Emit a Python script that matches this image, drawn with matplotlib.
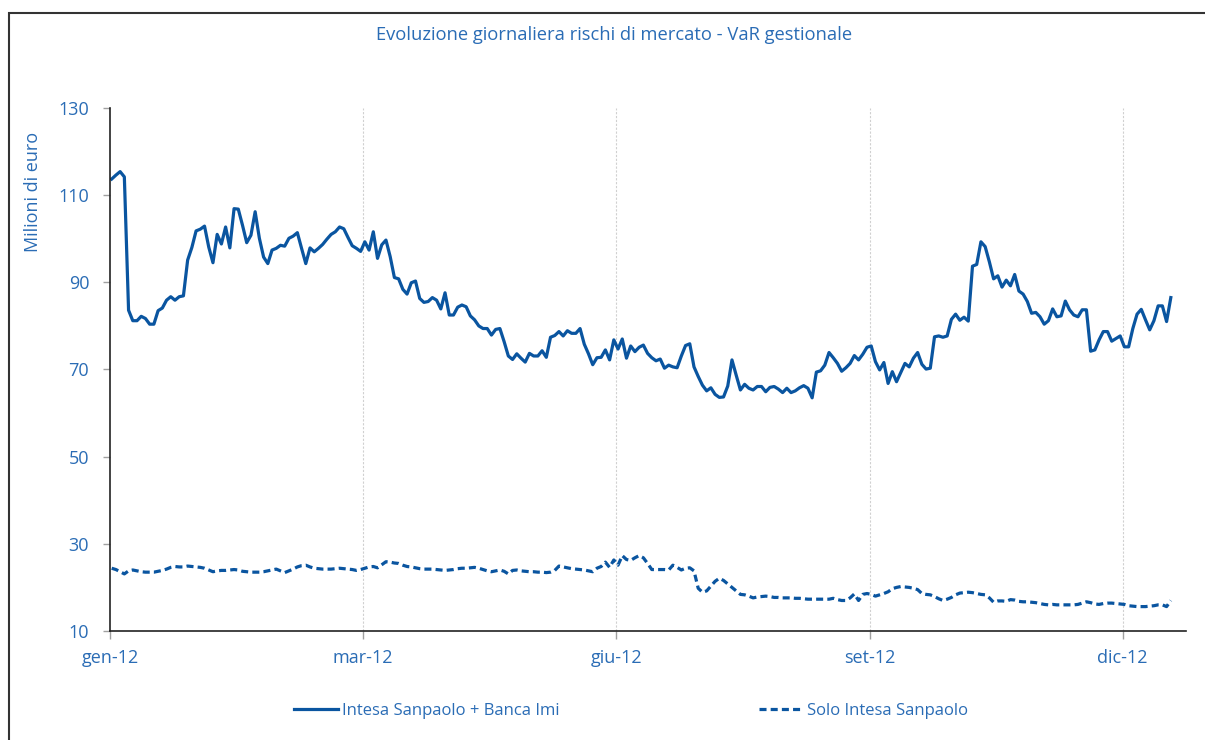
import matplotlib
matplotlib.use("Agg")
import matplotlib.pyplot as plt
from matplotlib.patches import Rectangle
import numpy as np

plt.rcParams['font.family'] = ['Open Sans', 'DejaVu Sans']

# daily VaR, milioni di euro
var_totale = [
    113.7, 114.6, 115.4, 114.2, 83.6, 81.2, 81.2, 82.2, 81.7, 80.4,
    80.4, 83.5, 84.1, 85.9, 86.7, 85.9, 86.7, 86.9, 95.1, 98.0,
    101.8, 102.2, 102.9, 98.1, 94.5, 101.0, 98.8, 102.7, 97.9, 106.9,
    106.8, 103.1, 99.1, 100.8, 106.2, 100.1, 95.8, 94.3, 97.4, 97.8,
    98.5, 98.3, 100.1, 100.6, 101.4, 97.8, 94.3, 97.9, 97.0, 97.8,
    98.7, 99.9, 101.0, 101.6, 102.7, 102.3, 100.3, 98.4, 97.8, 97.1,
    99.3, 97.4, 101.6, 95.5, 98.6, 99.7, 95.9, 91.1, 90.8, 88.4,
    87.3, 89.9, 90.3, 86.3, 85.4, 85.6, 86.5, 85.9, 83.9, 87.6,
    82.5, 82.5, 84.3, 84.8, 84.4, 82.3, 81.4, 80.0, 79.4, 79.4,
    77.9, 79.2, 79.4, 76.4, 73.1, 72.3, 73.6, 72.6, 71.7, 73.7,
    73.1, 73.1, 74.3, 72.8, 77.4, 77.8, 78.7, 77.7, 78.9, 78.3,
    78.3, 79.4, 75.8, 73.6, 71.1, 72.7, 72.8, 74.5, 72.2, 76.8,
    74.7, 77.0, 72.6, 75.4, 74.1, 75.1, 75.6, 73.7, 72.7, 72.0,
    72.4, 70.3, 71.0, 70.6, 70.4, 73.1, 75.5, 75.9, 70.6, 68.4,
    66.4, 65.1, 65.8, 64.3, 63.6, 63.7, 66.2, 72.2, 68.7, 65.3,
    66.6, 65.7, 65.3, 66.1, 66.1, 64.9, 65.9, 66.1, 65.5, 64.7,
    65.7, 64.7, 65.1, 65.8, 66.3, 65.7, 63.5, 69.4, 69.7, 71.0,
    73.9, 72.7, 71.4, 69.6, 70.4, 71.4, 73.2, 72.2, 73.5, 75.1,
    75.4, 71.8, 69.9, 71.6, 66.8, 69.5, 67.2, 69.3, 71.4, 70.6,
    72.6, 73.9, 71.2, 70.1, 70.3, 77.5, 77.7, 77.4, 77.7, 81.5,
    82.7, 81.3, 82.0, 81.1, 93.7, 94.1, 99.3, 98.2, 94.7, 90.8,
    91.5, 88.9, 90.5, 89.2, 91.8, 88.0, 87.3, 85.6, 82.9, 83.1,
    82.1, 80.4, 81.2, 83.9, 82.1, 82.3, 85.7, 83.7, 82.5, 82.1,
    83.7, 83.7, 74.2, 74.5, 76.8, 78.7, 78.7, 76.5, 77.1, 77.7,
    75.2, 75.2, 79.4, 82.7, 83.8, 81.4, 79.1, 81.2, 84.6, 84.6,
    81.0, 86.5,
]

var_solo_isp = [
    24.4, 24.1, 23.6, 23.1, 23.8, 24.0, 23.8, 23.6, 23.5, 23.5,
    23.5, 23.7, 23.9, 24.2, 24.6, 24.8, 24.7, 24.7, 24.9, 24.8,
    24.7, 24.6, 24.4, 24.0, 23.6, 23.8, 23.9, 23.9, 24.0, 24.1,
    24.0, 23.7, 23.6, 23.5, 23.5, 23.5, 23.6, 23.8, 24.0, 24.2,
    23.8, 23.4, 23.8, 24.2, 24.7, 25.0, 25.1, 24.7, 24.4, 24.3,
    24.2, 24.2, 24.2, 24.3, 24.4, 24.3, 24.2, 24.1, 23.9, 24.1,
    24.4, 24.7, 24.8, 24.5, 25.2, 25.9, 25.8, 25.6, 25.5, 25.1,
    24.8, 24.7, 24.5, 24.3, 24.2, 24.2, 24.2, 24.1, 24.0, 23.9,
    24.0, 24.1, 24.3, 24.4, 24.4, 24.5, 24.6, 24.4, 24.1, 23.8,
    23.6, 23.8, 24.0, 23.7, 23.1, 23.9, 24.0, 23.8, 23.7, 23.6,
    23.6, 23.5, 23.5, 23.4, 23.5, 23.9, 24.9, 24.7, 24.5, 24.3,
    24.2, 24.1, 24.0, 23.8, 23.6, 24.4, 24.8, 25.8, 24.6, 26.3,
    25.1, 27.3, 26.4, 26.2, 26.8, 27.3, 26.8, 25.5, 24.1, 24.1,
    24.1, 24.1, 24.0, 25.1, 24.6, 24.0, 24.4, 24.5, 23.8, 19.8,
    18.9, 19.2, 20.3, 21.4, 22.1, 21.6, 20.8, 20.0, 19.2, 18.4,
    18.3, 18.0, 17.6, 17.8, 17.9, 18.0, 17.9, 17.7, 17.7, 17.6,
    17.6, 17.6, 17.5, 17.5, 17.4, 17.3, 17.3, 17.3, 17.3, 17.3,
    17.3, 17.5, 17.2, 17.0, 17.0, 17.6, 18.5, 17.0, 18.4, 18.6,
    18.4, 18.0, 18.3, 18.6, 19.0, 19.7, 20.0, 20.2, 20.1, 20.0,
    19.8, 19.5, 18.6, 18.4, 18.3, 17.9, 17.4, 17.0, 17.3, 17.7,
    18.3, 18.7, 18.8, 18.9, 18.8, 18.6, 18.4, 18.3, 17.6, 16.6,
    16.9, 16.9, 16.8, 17.2, 17.1, 16.8, 16.7, 16.7, 16.6, 16.5,
    16.3, 16.1, 16.0, 16.1, 16.0, 16.0, 16.0, 16.0, 16.0, 16.1,
    16.4, 16.7, 16.5, 16.2, 16.1, 16.3, 16.4, 16.4, 16.3, 16.2,
    16.1, 15.8, 15.7, 15.6, 15.6, 15.6, 15.7, 15.8, 16.0, 16.0,
    15.6, 17.0,
]

tick_labels = ['gen-12', 'mar-12', 'giu-12', 'set-12', 'dic-12']
tick_pos = [0, 60, 120, 180, 240]

blu = '#0a55a0'
testo = '#2a6cb5'

x = np.arange(len(var_totale)) + 0.4

fig = plt.figure(figsize=(12.05, 7.4), dpi=100)
ax = fig.add_axes([110/1205, 1 - 631/740, (1186 - 110)/1205, (631 - 108)/740])

ax.plot(x, var_totale, color=blu, lw=2.3, solid_joinstyle='round',
        label='Intesa Sanpaolo + Banca Imi')
ax.plot(x, var_solo_isp, color=blu, lw=2.3, linestyle=(0, (2.2, 1.3)),
        label='Solo Intesa Sanpaolo')

ax.set_xlim(0, 255)
ax.set_ylim(10, 130)
ax.set_yticks(range(10, 131, 20))
ax.set_xticks(tick_pos)
ax.set_xticklabels(tick_labels)

for p in tick_pos[1:]:
    ax.axvline(p, color='#d0d0d0', lw=0.8, ls=(0, (2, 1.5)), zorder=0)

for s in ['top', 'right']:
    ax.spines[s].set_visible(False)
for s in ['left', 'bottom']:
    ax.spines[s].set_color('#222222')
    ax.spines[s].set_linewidth(1.2)

ax.tick_params(axis='y', colors='#a0a0a0', length=5, width=1, labelcolor=testo,
               labelsize=13, pad=10)
ax.tick_params(axis='x', colors='#a0a0a0', length=6, width=1, labelcolor=testo,
               labelsize=13, pad=7)

fig.text(0.027, 1 - 192/740, 'Milioni di euro', rotation=90, color=testo,
         fontsize=13, ha='center', va='center')
fig.text(614/1205, 1 - 35/740,
         'Evoluzione giornaliera rischi di mercato - VaR gestionale',
         color=testo, fontsize=13.2, ha='center', va='center')

leg = fig.legend(loc='center', bbox_to_anchor=(631/1205, 1 - 711/740), ncol=2,
                 frameon=False, fontsize=12, handlelength=2.6,
                 handletextpad=0.25, columnspacing=12)
for t in leg.get_texts():
    t.set_color(testo)

# cornice
fig.add_artist(Rectangle((9/1205, -0.05), 1.1, 1 - 13/740 + 0.05,
                         transform=fig.transFigure, fill=False,
                         edgecolor='#333333', lw=1.5))

fig.savefig('out.png', dpi=100)
